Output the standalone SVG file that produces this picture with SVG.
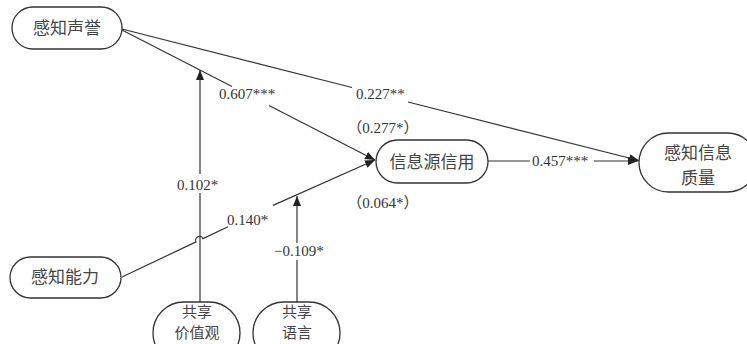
<svg xmlns="http://www.w3.org/2000/svg" width="747" height="344" viewBox="0 0 747 344">
<style>
.node{fill:#fff;stroke:#333;stroke-width:1.3}
.nt{font-family:"Noto Sans CJK SC",sans-serif;font-size:17px;fill:#444;text-anchor:middle}
.nt2{font-family:"Noto Sans CJK SC",sans-serif;font-size:15px;fill:#444;text-anchor:middle}
.lbl{font-family:"Liberation Serif","Noto Sans CJK SC",serif;font-size:15px;fill:#333}
.ln{fill:none;stroke:#333;stroke-width:1.2}
</style>
<defs>
<marker id="ah" markerWidth="10" markerHeight="8" refX="10" refY="4" orient="auto" markerUnits="userSpaceOnUse">
<path d="M0,0 L10,4 L0,8 Z" fill="#222"/>
</marker>
</defs>
<rect width="747" height="344" fill="#fff"/>
<g id="connectors">
<path class="ln" d="M122,30 L232,86.5"/>
<path class="ln" d="M269,105.5 L375,160" marker-end="url(#ah)"/>
<path class="ln" d="M122,29 L352,87.5"/>
<path class="ln" d="M408,102 L639,160.5" marker-end="url(#ah)"/>
<path class="ln" d="M200,302 L200,193"/>
<path class="ln" d="M200,174 L200,70" marker-end="url(#ah)"/>
<path class="ln" d="M122,277 L196,241.9 A3.5,3.5 0 0 1 203,238.6 L228,226.7"/>
<path class="ln" d="M273,205.4 L375,160" marker-end="url(#ah)"/>
<path class="ln" d="M297,302 L297,260"/>
<path class="ln" d="M297,243 L297,196" marker-end="url(#ah)"/>
<path class="ln" d="M488,161 L530,161"/>
<path class="ln" d="M594,161 L638,161" marker-end="url(#ah)"/>
</g>
<g id="labels">
<text class="lbl" x="219" y="99">0.607***</text>
<text class="lbl" x="356" y="99">0.227**</text>
<text class="lbl" x="383" y="133" text-anchor="middle">（0.277*）</text>
<text class="lbl" x="383" y="208" text-anchor="middle">（0.064*）</text>
<text class="lbl" x="177" y="190">0.102*</text>
<text class="lbl" x="227" y="225">0.140*</text>
<text class="lbl" x="274" y="256">−0.109*</text>
<text class="lbl" x="532" y="166">0.457***</text>
</g>
<g id="n-reputation">
<rect class="node" x="12" y="7" width="110" height="42" rx="21"/>
<text class="nt" x="67" y="34">感知声誉</text>
</g>
<g id="n-credibility">
<rect class="node" x="376" y="140" width="112" height="43" rx="21.5"/>
<text class="nt" x="432" y="168">信息源信用</text>
</g>
<g id="n-quality">
<rect class="node" x="639" y="133" width="118" height="59" rx="29.5"/>
<text class="nt" x="698" y="159">感知信息</text>
<text class="nt" x="698" y="184">质量</text>
</g>
<g id="n-ability">
<rect class="node" x="10" y="257" width="111" height="41" rx="20.5"/>
<text class="nt" x="65" y="283">感知能力</text>
</g>
<g id="n-values">
<rect class="node" x="153" y="302" width="87" height="62" rx="31"/>
<text class="nt2" x="197" y="317">共享</text>
<text class="nt2" x="197" y="338">价值观</text>
</g>
<g id="n-language">
<rect class="node" x="253" y="302" width="87" height="62" rx="31"/>
<text class="nt2" x="297" y="317">共享</text>
<text class="nt2" x="297" y="338">语言</text>
</g>
</svg>
